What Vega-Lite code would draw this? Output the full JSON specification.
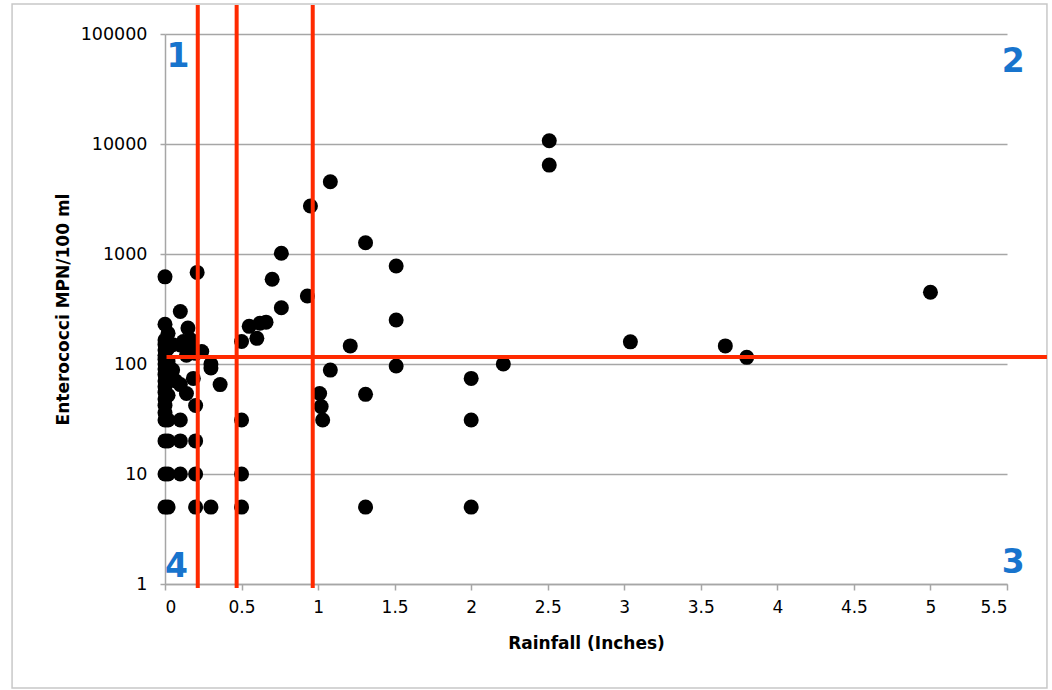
{
  "$schema": "https://vega.github.io/schema/vega-lite/v6.json",
  "autosize": {"type": "none"},
  "width": 842,
  "height": 550,
  "padding": {"left": 165, "top": 34, "right": 45, "bottom": 106},
  "background": "white",
  "config": {
    "view": {"stroke": null},
    "font": "DejaVu Sans"
  },
  "datasets": {
    "samples": [
      {"rain": 0, "ent": 620}, {"rain": 0, "ent": 230}, {"rain": 0, "ent": 165}, {"rain": 0, "ent": 150},
      {"rain": 0, "ent": 134}, {"rain": 0, "ent": 120}, {"rain": 0, "ent": 110}, {"rain": 0, "ent": 100},
      {"rain": 0, "ent": 90}, {"rain": 0, "ent": 80}, {"rain": 0, "ent": 70}, {"rain": 0, "ent": 62},
      {"rain": 0, "ent": 55}, {"rain": 0, "ent": 48}, {"rain": 0, "ent": 42}, {"rain": 0, "ent": 36},
      {"rain": 0, "ent": 31}, {"rain": 0, "ent": 20}, {"rain": 0, "ent": 10}, {"rain": 0, "ent": 5},
      {"rain": 0.02, "ent": 190}, {"rain": 0.02, "ent": 140}, {"rain": 0.02, "ent": 105}, {"rain": 0.02, "ent": 85},
      {"rain": 0.02, "ent": 75}, {"rain": 0.02, "ent": 52}, {"rain": 0.02, "ent": 31}, {"rain": 0.02, "ent": 20},
      {"rain": 0.02, "ent": 10}, {"rain": 0.02, "ent": 5},
      {"rain": 0.05, "ent": 150}, {"rain": 0.05, "ent": 88}, {"rain": 0.07, "ent": 70},
      {"rain": 0.1, "ent": 300}, {"rain": 0.1, "ent": 149}, {"rain": 0.1, "ent": 65}, {"rain": 0.1, "ent": 31},
      {"rain": 0.1, "ent": 20}, {"rain": 0.1, "ent": 10},
      {"rain": 0.12, "ent": 160}, {"rain": 0.14, "ent": 54}, {"rain": 0.14, "ent": 120},
      {"rain": 0.15, "ent": 212}, {"rain": 0.16, "ent": 144}, {"rain": 0.17, "ent": 165},
      {"rain": 0.185, "ent": 74}, {"rain": 0.2, "ent": 42}, {"rain": 0.21, "ent": 680}, {"rain": 0.2, "ent": 125},
      {"rain": 0.2, "ent": 20}, {"rain": 0.2, "ent": 10}, {"rain": 0.2, "ent": 5},
      {"rain": 0.24, "ent": 130}, {"rain": 0.3, "ent": 100}, {"rain": 0.3, "ent": 92}, {"rain": 0.3, "ent": 5},
      {"rain": 0.36, "ent": 65},
      {"rain": 0.5, "ent": 160}, {"rain": 0.5, "ent": 31}, {"rain": 0.5, "ent": 10}, {"rain": 0.5, "ent": 5},
      {"rain": 0.55, "ent": 220}, {"rain": 0.6, "ent": 171}, {"rain": 0.62, "ent": 235}, {"rain": 0.66, "ent": 240},
      {"rain": 0.7, "ent": 590}, {"rain": 0.76, "ent": 1015}, {"rain": 0.76, "ent": 325},
      {"rain": 0.93, "ent": 415}, {"rain": 0.95, "ent": 2730},
      {"rain": 1.01, "ent": 54}, {"rain": 1.02, "ent": 41}, {"rain": 1.03, "ent": 31},
      {"rain": 1.08, "ent": 4540}, {"rain": 1.08, "ent": 88},
      {"rain": 1.21, "ent": 146},
      {"rain": 1.31, "ent": 1267}, {"rain": 1.31, "ent": 53}, {"rain": 1.31, "ent": 5},
      {"rain": 1.51, "ent": 778}, {"rain": 1.51, "ent": 251}, {"rain": 1.51, "ent": 96},
      {"rain": 2.0, "ent": 74}, {"rain": 2.0, "ent": 31}, {"rain": 2.0, "ent": 5},
      {"rain": 2.21, "ent": 100},
      {"rain": 2.51, "ent": 10700}, {"rain": 2.51, "ent": 6430},
      {"rain": 3.04, "ent": 159}, {"rain": 3.66, "ent": 146}, {"rain": 3.8, "ent": 115},
      {"rain": 5.0, "ent": 449}
    ],
    "cutoffs": [{"rain": 0.214}, {"rain": 0.468}, {"rain": 0.965}],
    "quadrants": [
      {"label": "1", "rain": 0.085, "ent": 61800},
      {"label": "2", "rain": 5.54, "ent": 55600},
      {"label": "3", "rain": 5.54, "ent": 1.55},
      {"label": "4", "rain": 0.075, "ent": 1.43}
    ]
  },
  "layer": [
    {
      "data": {"values": [{}]},
      "mark": {"type": "rect", "fill": null, "stroke": "#c8c8c8", "strokeWidth": 1.5},
      "encoding": {
        "x": {"datum": -0.999, "type": "quantitative", "scale": {"domain": [0, 5.5], "nice": false, "zero": false}},
        "x2": {"datum": 5.761},
        "y": {"datum": 187500, "type": "quantitative", "scale": {"type": "log", "domain": [1, 100000], "nice": false}},
        "y2": {"datum": 0.1135}
      }
    },
    {
      "data": {"name": "samples"},
      "mark": {"type": "circle", "color": "black", "opacity": 1, "size": 225},
      "encoding": {
        "x": {
          "field": "rain", "type": "quantitative",
          "scale": {"domain": [0, 5.5], "nice": false, "zero": false},
          "axis": {
            "title": "Rainfall (Inches)",
            "values": [0, 0.5, 1, 1.5, 2, 2.5, 3, 3.5, 4, 4.5, 5, 5.5],
            "format": ".1~f",
            "grid": false,
            "domainColor": "#a6a6a6", "domainWidth": 1.5,
            "tickColor": "#a6a6a6", "tickWidth": 1.5, "tickSize": 6,
            "labelFont": "DejaVu Sans", "labelFontSize": 17, "labelColor": "#000000", "labelPadding": 9,
            "titleFont": "DejaVu Sans", "titleFontSize": 17, "titleFontWeight": "bold", "titleColor": "#000000",
            "titlePadding": 20
          }
        },
        "y": {
          "field": "ent", "type": "quantitative",
          "scale": {"type": "log", "domain": [1, 100000], "nice": false},
          "axis": {
            "title": "Enterococci MPN/100 ml",
            "values": [1, 10, 100, 1000, 10000, 100000],
            "format": "d",
            "grid": true, "gridColor": "#a6a6a6", "gridWidth": 1.5,
            "domainColor": "#a6a6a6", "domainWidth": 1.5,
            "tickColor": "#a6a6a6", "tickWidth": 1.5, "tickSize": 5,
            "labelFont": "DejaVu Sans", "labelFontSize": 17.5, "labelColor": "#000000", "labelPadding": 13,
            "titleFont": "DejaVu Sans", "titleFontSize": 17, "titleFontWeight": "bold", "titleColor": "#000000",
            "titlePadding": 8
          }
        }
      }
    },
    {
      "data": {"name": "cutoffs"},
      "mark": {"type": "rule", "color": "#ff2a00", "strokeWidth": 4},
      "encoding": {
        "x": {"field": "rain", "type": "quantitative"},
        "y": {"datum": 0.92},
        "y2": {"datum": 183500}
      }
    },
    {
      "data": {"values": [{}]},
      "mark": {"type": "rule", "color": "#ff2a00", "strokeWidth": 4},
      "encoding": {
        "x": {"datum": 0.01},
        "x2": {"datum": 5.761},
        "y": {"datum": 116}
      }
    },
    {
      "data": {"name": "quadrants"},
      "mark": {"type": "text", "color": "#1874cd", "font": "DejaVu Sans", "fontWeight": "bold", "fontSize": 33, "align": "center", "baseline": "middle"},
      "encoding": {
        "x": {"field": "rain", "type": "quantitative"},
        "y": {"field": "ent", "type": "quantitative"},
        "text": {"field": "label"}
      }
    }
  ]
}
